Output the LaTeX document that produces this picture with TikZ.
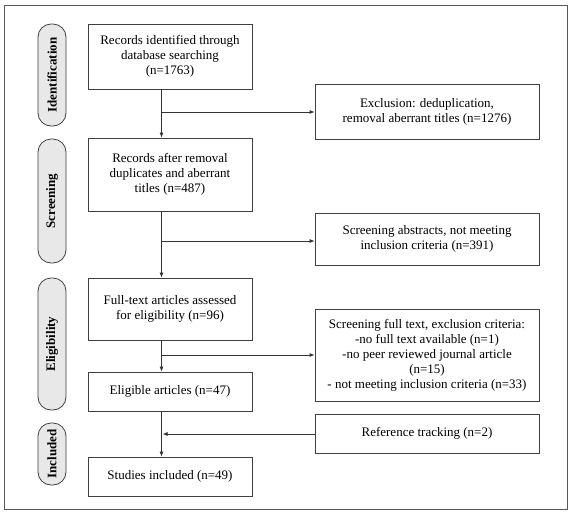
\documentclass[tikz,border=0pt]{standalone}
\usepackage{fontspec}
\setmainfont{Liberation Serif}
\usetikzlibrary{arrows.meta}
\tikzset{
  stage/.style={draw=black!75, line width=0.8pt, fill=white, align=center, inner sep=2pt, font=\fontsize{13}{15}\selectfont},
  phase/.style={draw=black!75, line width=0.8pt, fill=black!9, rotate=90, minimum height=28pt, rounded corners=13pt, font=\fontsize{13}{15}\selectfont\bfseries},
  arr/.style={draw=black!80, line width=0.8pt, -{Latex[length=5pt,width=4pt]}},
  ln/.style={draw=black!80, line width=0.8pt}
}
\begin{document}
\begin{tikzpicture}[x=1pt,y=-1pt]
	\useasboundingbox (0,0) rectangle (572,514);
	\draw[black!65, line width=0.8pt] (4,5) rectangle (567,509);
	% phases
	\node[phase, minimum width=102pt] (ident) at (52,75) {Identification};
	\node[phase, minimum width=124pt] (screen) at (52,201) {Screening};
	\node[phase, minimum width=132pt] (elig) at (52,344) {Eligibility};
	\node[phase, minimum width=62pt] (incl) at (52,454) {Included};
	% main column
	\node[stage, minimum width=164pt, minimum height=65pt] (rec) at (170,56.5) {Records identified through\\database searching\\(n=1763)};
	\node[stage, minimum width=164pt, minimum height=73pt] (dup) at (170,174.5) {Records after removal\\duplicates and aberrant\\titles (n=487)};
	\node[stage, minimum width=164pt, minimum height=62pt] (full) at (170,309) {Full-text articles assessed\\for eligibility (n=96)};
	\node[stage, minimum width=164pt, minimum height=39pt] (elart) at (170,391.5) {Eligible articles (n=47)};
	\node[stage, minimum width=164pt, minimum height=39pt] (incart) at (170,476.5) {Studies included (n=49)};
	% side column
	\node[stage, minimum width=224pt, minimum height=55pt] (excl) at (427,111.5) {Exclusion: deduplication,\\removal aberrant titles (n=1276)};
	\node[stage, minimum width=224pt, minimum height=52pt] (abs) at (427,239) {Screening abstracts, not meeting\\inclusion criteria (n=391)};
	\node[stage, minimum width=224pt, minimum height=92pt] (fulltxt) at (427,355) {Screening full text, exclusion criteria:\\-no full text available (n=1)\\-no peer reviewed journal article\\(n=15)\\- not meeting inclusion criteria (n=33)};
	\node[stage, minimum width=224pt, minimum height=39pt] (reftr) at (427,433.5) {Reference tracking (n=2)};
	% branch points
	\coordinate (b1) at (161.5,112);
	\coordinate (b2) at (161.5,241);
	\coordinate (b3) at (161.5,355);
	\coordinate (b4) at (161.5,434);
	% connectors
	\draw[arr] (rec.south -| b1) -- (dup.north -| b1);
	\draw[arr] (dup.south -| b2) -- (full.north -| b2);
	\draw[arr] (full.south -| b3) -- (elart.north -| b3);
	\draw[arr] (elart.south -| b4) -- (incart.north -| b4);
	\draw[arr] ([xshift=-1pt]b1) -- (b1 -| excl.west);
	\draw[arr] ([xshift=-1pt]b2) -- (b2 -| abs.west);
	\draw[arr] ([xshift=-1pt]b3) -- (b3 -| fulltxt.west);
	\draw[arr] (b4 -| reftr.west) -- ([xshift=1pt]b4);
\end{tikzpicture}
\end{document}
